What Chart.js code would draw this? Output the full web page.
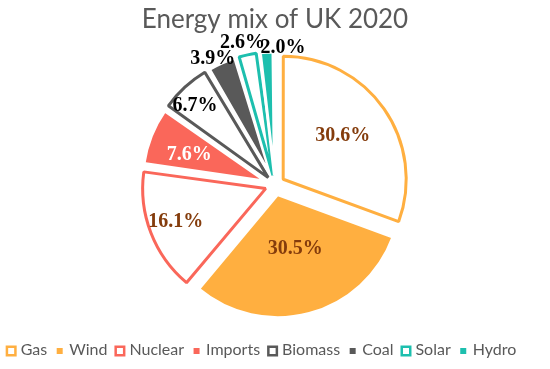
<!DOCTYPE html>
<html>
<head>
<meta charset="utf-8">
<script src="https://cdn.jsdelivr.net/npm/chart.js@4"></script>
<style>
  html, body { margin: 0; padding: 0; background: #fff; }
  #wrap { width: 550px; height: 369px; }
</style>
</head>
<body>
<div id="wrap"><canvas id="chart" width="550" height="369"></canvas></div>
<script>
const sources = ['Gas', 'Wind', 'Nuclear', 'Imports', 'Biomass', 'Coal', 'Solar', 'Hydro'];
const shares = [30.6, 30.5, 16.1, 7.6, 6.7, 3.9, 2.6, 2.0];
const titleText = 'Energy mix of UK 2020';

const orange = '#FFAF40';
const salmon = '#FA675A';
const grey = '#595959';
const teal = '#1DBFAE';
const baseColors = [orange, orange, salmon, salmon, grey, grey, teal, teal];
const hollow = [true, false, true, false, true, false, true, false];

// label placement along the slice middle, as a part of the radius, then a small shift
const labelRadius = [0.62, 0.46, 0.74, 0.65, 0.82, 1.08, 1.12, 1.1];
const labelShift = [[-3, 0], [3, -1], [-5, 1], [-2, 3], [-5, 2], [-5, 5], [-2, 2], [17, 8]];
const labelColors = ['#843C0C', '#843C0C', '#843C0C', '#ffffff', '#000000', '#000000', '#000000', '#000000'];

// chart.js makes thin exploded slices longer, pull them back to the common radius
const evenRadius = {
  id: 'evenRadius',
  afterDatasetUpdate(chart, args) {
    const meta = args.meta;
    meta.data.forEach(arc => {
      const circ = arc.endAngle - arc.startAngle;
      const fix = 1 - Math.sin(Math.min(Math.PI, circ));
      const t = (arc.options.offset || 0) / 4;
      arc.outerRadius = meta.controller.outerRadius - t * fix;
    });
  }
};

const sliceLabels = {
  id: 'sliceLabels',
  afterDatasetsDraw(chart) {
    const ctx = chart.ctx;
    const meta = chart.getDatasetMeta(0);
    const r = meta.controller.outerRadius;
    ctx.save();
    ctx.font = 'bold 20px "Liberation Serif", "Times New Roman", serif';
    ctx.textAlign = 'center';
    ctx.textBaseline = 'middle';
    meta.data.forEach((arc, i) => {
      const mid = (arc.startAngle + arc.endAngle) / 2;
      const off = (arc.options.offset || 0) / 4;
      const d = off + labelRadius[i] * r;
      ctx.fillStyle = labelColors[i];
      ctx.fillText(shares[i].toFixed(1) + '%',
        arc.x + Math.cos(mid) * d + labelShift[i][0],
        arc.y + Math.sin(mid) * d + labelShift[i][1]);
    });
    ctx.restore();
  }
};

// one-row legend under the pie, hollow boxes for the outlined slices
const rowLegend = {
  id: 'rowLegend',
  afterDraw(chart) {
    const ctx = chart.ctx;
    const box = 11, gapIn = 4, gapOut = 7, y = 351;
    ctx.save();
    ctx.font = '16px Lato';
    const widths = sources.map(s => ctx.measureText(s).width);
    const total = widths.reduce((a, w) => a + box + gapIn + w + gapOut, 0) - gapOut;
    let x = 261 - total / 2;
    sources.forEach((s, i) => {
      if (hollow[i]) {
        ctx.strokeStyle = baseColors[i];
        ctx.lineWidth = 2.5;
        ctx.strokeRect(x + 1.25, y - box / 2 + 1.25, box - 2.5, box - 2.5);
      } else {
        ctx.fillStyle = baseColors[i];
        ctx.fillRect(x + 2.5, y - 3, 6, 6);
      }
      ctx.fillStyle = '#595959';
      ctx.textAlign = 'left';
      ctx.textBaseline = 'alphabetic';
      ctx.fillText(s, x + box + gapIn, y + 4);
      x += box + gapIn + widths[i] + gapOut;
    });
    ctx.restore();
  }
};

new Chart(document.getElementById('chart'), {
  type: 'pie',
  data: {
    labels: sources,
    datasets: [{
      data: shares,
      backgroundColor: baseColors.map((c, i) => hollow[i] ? '#ffffff' : c),
      borderColor: baseColors.map((c, i) => hollow[i] ? c : '#ffffff'),
      borderWidth: 3,
      offset: 40
    }]
  },
  options: {
    responsive: false,
    animation: false,
    layout: { padding: { left: 0, right: 0, top: 0, bottom: 39.5 } },
    plugins: {
      tooltip: { enabled: false },
      legend: { display: false },
      title: {
        display: true,
        text: titleText,
        color: '#595959',
        font: { family: 'Lato', size: 26, weight: 'normal' },
        padding: { top: 4, bottom: 5.3 }
      }
    }
  },
  plugins: [evenRadius, sliceLabels, rowLegend]
});
</script>
</body>
</html>
